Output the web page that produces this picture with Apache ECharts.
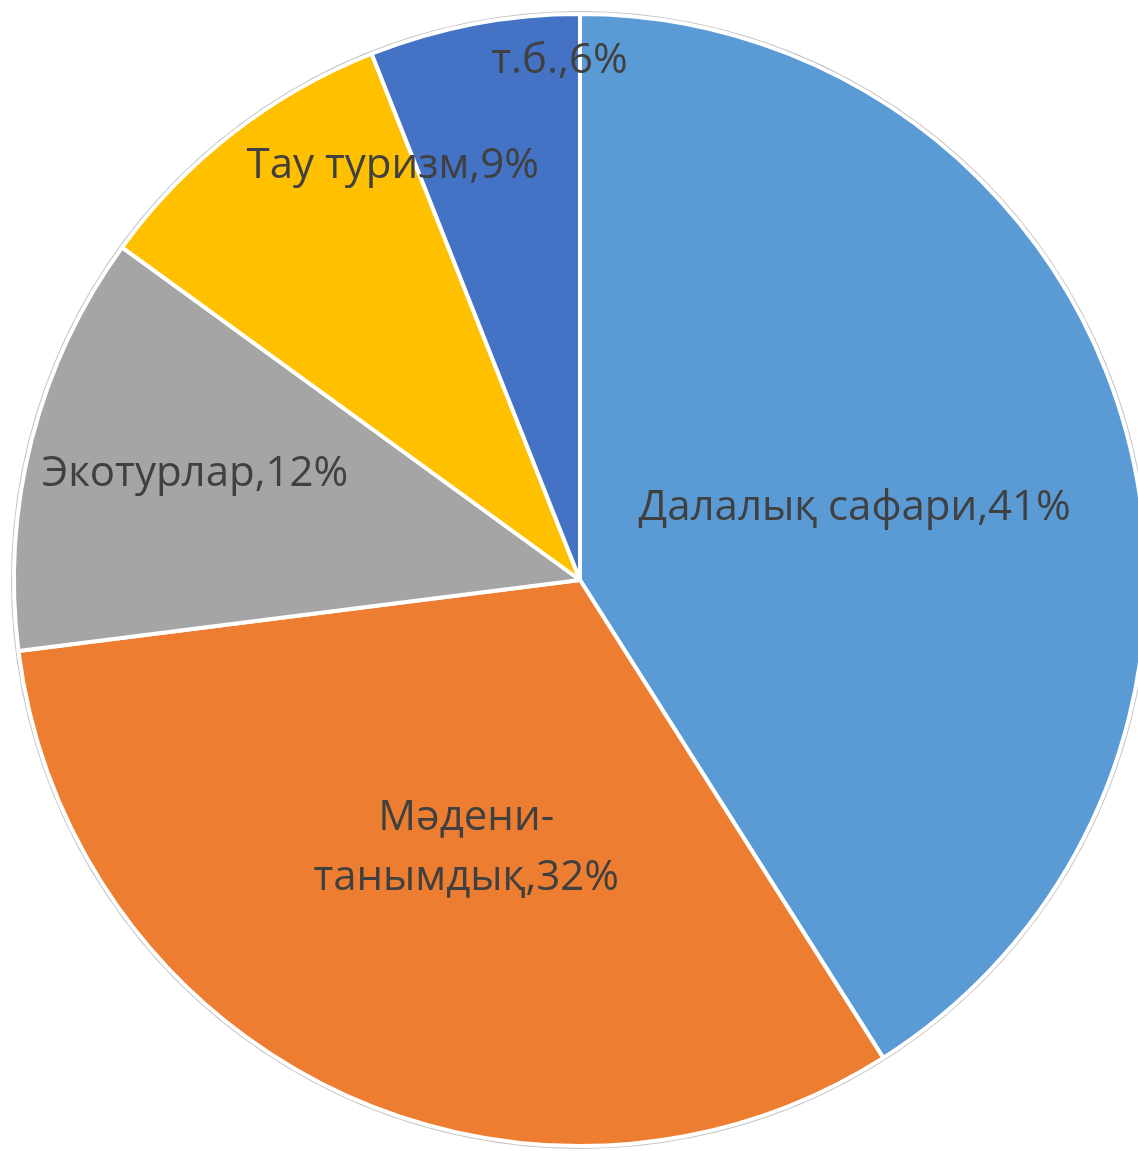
<!DOCTYPE html>
<html>
<head>
<meta charset="utf-8">
<script src="https://cdn.jsdelivr.net/npm/echarts@6/dist/echarts.min.js"></script>
<style>
  html, body { margin: 0; padding: 0; background: #ffffff; }
  #chart { width: 1138px; height: 1151px; }
</style>
</head>
<body>
<div id="chart"></div>
<script>
// туризм түрлері, % (clockwise from 12 o'clock)
const categories = ['Далалық сафари', 'Мәдени-танымдық', 'Экотурлар', 'Тау туризм', 'т.б.'];
const shares = [41, 32, 12, 9, 6];
const colors = ['#5B9BD5', '#ED7D31', '#A5A5A5', '#FFC000', '#4472C4'];
// label nudges away from the slice midpoint, like Excel's "best fit"
const labelShift = [[0, 8], [8, 9], [-108, -35], [-12, -188], [33, -238]];

const chart = echarts.init(document.getElementById('chart'), null, {renderer: 'canvas'});

const option = {
	animation: false,
	series: [
		{
			// thin grey rim round the pie
			type: 'pie',
			silent: true,
			center: [580, 580],
			radius: 569,
			startAngle: 90,
			label: {show: false},
			labelLine: {show: false},
			itemStyle: {color: '#c4c4c4'},
			data: [{value: 1, name: ''}],
			z: 1
		},
		{
			type: 'pie',
			center: [580, 580],
			radius: 566,
			startAngle: 90,
			clockwise: true,
			avoidLabelOverlap: false,
			itemStyle: {borderColor: '#ffffff', borderWidth: 4},
			label: {
				show: true,
				position: 'inside',
				color: '#404040',
				fontFamily: '"Open Sans", "Noto Sans", sans-serif',
				fontSize: 42,
				lineHeight: 60,
				align: 'center',
				formatter: (p) => p.name.replace('-', '-\n') + ',' + p.value + '%'
			},
			labelLine: {show: false},
			labelLayout: (params) => {
				const s = labelShift[params.dataIndex];
				return {dx: s[0], dy: s[1]};
			},
			data: categories.map((name, i) => ({
				name: name,
				value: shares[i],
				itemStyle: {color: colors[i]}
			})),
			z: 2
		}
	]
};

chart.setOption(option);
</script>
</body>
</html>
